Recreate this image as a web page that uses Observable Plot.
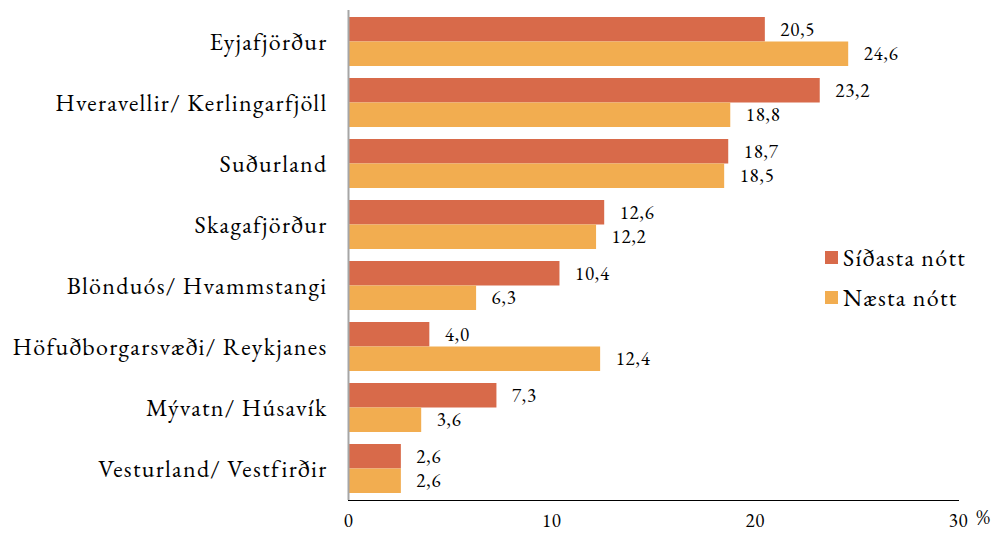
<!DOCTYPE html>
<html>
<head>
<meta charset="utf-8">
<script src="https://cdn.jsdelivr.net/npm/d3@7"></script>
<script src="https://cdn.jsdelivr.net/npm/@observablehq/plot@0.6"></script>
<style>
  html, body { margin: 0; padding: 0; background: #fff; }
  #wrap { position: relative; width: 1000px; height: 540px; font-family: "EB Garamond", "Liberation Serif", serif; }
  #wrap svg, #wrap svg text, #wrap svg g { font-family: "EB Garamond", "Liberation Serif", serif !important; }
  .legend { position: absolute; left: 825px; top: 237px; font-size: 24px; letter-spacing: 1.3px; color: #000; }
  .legend div { display: flex; align-items: center; height: 40px; }
  .legend span.sw { display: inline-block; width: 13px; height: 13px; margin-right: 5px; }
</style>
</head>
<body>
<div id="wrap"></div>
<script>
const categories = ["Eyjafjörður", "Hveravellir/ Kerlingarfjöll", "Suðurland", "Skagafjörður", "Blönduós/ Hvammstangi", "Höfuðborgarsvæði/ Reykjanes", "Mývatn/ Húsavík", "Vesturland/ Vestfirðir"];
const sidasta = [20.5, 23.2, 18.7, 12.6, 10.4, 4.0, 7.3, 2.6];
const naesta = [24.6, 18.8, 18.5, 12.2, 6.3, 12.4, 3.6, 2.6];
const seriesNames = ["Síðasta nótt", "Næsta nótt"];
const colors = ["#D86A4A", "#F2AD50"];
const xTicks = [0, 10, 20, 30];

const rows = categories.map((c, i) => ({cat: c, a: sidasta[i], b: naesta[i]}));
const fmt = v => d3.format(".1f")(v).replace(".", ",");
const FONT = "'EB Garamond', 'Liberation Serif', serif";

const chart = Plot.plot({
  width: 1000,
  height: 540,
  marginLeft: 348,
  marginRight: 42,
  marginTop: 10,
  marginBottom: 40,
  style: {fontFamily: FONT, color: "#000", background: "#fff"},
  x: {domain: [0, 30], ticks: xTicks, tickSize: 0, tickPadding: 13, label: null, line: true, tickFormat: d => String(d)},
  y: {domain: categories, paddingInner: 0.2, paddingOuter: 0.1, tickSize: 0, tickPadding: 21, label: null},
  marks: [
    Plot.barX(rows, {x: "a", y: "cat", fill: colors[0], insetBottom: 24.5}),
    Plot.barX(rows, {x: "b", y: "cat", fill: colors[1], insetTop: 24.5}),
    Plot.text(rows, {x: "a", y: "cat", text: d => fmt(d.a), dx: 15, dy: -12, textAnchor: "start", fontSize: 19, fill: "#000", className: "vlab"}),
    Plot.text(rows, {x: "b", y: "cat", text: d => fmt(d.b), dx: 15, dy: 12, textAnchor: "start", fontSize: 19, fill: "#000", className: "vlab"}),
    Plot.ruleX([0], {stroke: "#a6a6a6", strokeWidth: 2}),
    Plot.text(["%"], {x: 30, frameAnchor: "bottom", dy: 23, dx: 25, fontSize: 21, fill: "#000"})
  ]
});

d3.select(chart).selectAll("text").attr("font-family", FONT);
d3.select(chart).selectAll("g[aria-label='y-axis tick label']").attr("font-size", 24).style("letter-spacing", "1.3px");
d3.select(chart).selectAll("g[aria-label='x-axis tick label']").attr("font-size", 19).style("letter-spacing", "0.6px");
d3.select(chart).selectAll("g[aria-label='text']").style("letter-spacing", "0.8px");
d3.select(chart).selectAll("g[aria-label='x-axis line'], g[aria-label='x-axis line'] line").attr("stroke", "#a6a6a6").attr("stroke-width", 2).attr("stroke-opacity", 1);

const wrap = document.getElementById("wrap");
wrap.appendChild(chart);

const legend = document.createElement("div");
legend.className = "legend";
seriesNames.forEach((name, i) => {
  const row = document.createElement("div");
  const sw = document.createElement("span");
  sw.className = "sw";
  sw.style.background = colors[i];
  row.appendChild(sw);
  row.appendChild(document.createTextNode(name));
  legend.appendChild(row);
});
wrap.appendChild(legend);
</script>
</body>
</html>
